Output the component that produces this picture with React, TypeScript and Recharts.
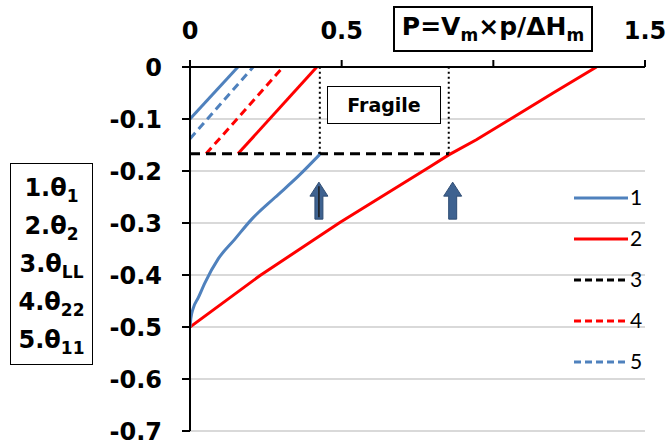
import React from "react";
import {
  ComposedChart,
  Line,
  XAxis,
  YAxis,
  CartesianGrid,
  ReferenceDot,
} from "recharts";

// ---------- data ----------
const X_TICKS = [0, 0.5, 1, 1.5];
const Y_TICKS = [0, -0.1, -0.2, -0.3, -0.4, -0.5, -0.6, -0.7];

// 1. theta1 (blue solid)
const theta1Lower = [
  { x: 0, y: -0.5 },
  { x: 0.003, y: -0.483 },
  { x: 0.01, y: -0.465 },
  { x: 0.027, y: -0.444 },
  { x: 0.05, y: -0.414 },
  { x: 0.093, y: -0.369 },
  { x: 0.148, y: -0.331 },
  { x: 0.203, y: -0.293 },
  { x: 0.28, y: -0.251 },
  { x: 0.357, y: -0.21 },
  { x: 0.428, y: -0.168 },
];
const theta1Upper = [
  { x: 0, y: -0.1 },
  { x: 0.158, y: 0 },
];
// 2. theta2 (red solid)
const theta2Main = [
  { x: 0, y: -0.5 },
  { x: 0.231, y: -0.401 },
  { x: 0.494, y: -0.299 },
  { x: 0.791, y: -0.192 },
  { x: 0.853, y: -0.169 },
  { x: 0.944, y: -0.14 },
  { x: 1.054, y: -0.101 },
  { x: 1.197, y: -0.05 },
  { x: 1.34, y: 0 },
];
const theta2Upper = [
  { x: 0.158, y: -0.167 },
  { x: 0.418, y: 0 },
];
// 3. thetaLL (black dashed)
const thetaLL = [
  { x: 0, y: -0.167 },
  { x: 0.853, y: -0.167 },
];
// 4. theta22 (red dashed)
const theta22 = [
  { x: 0.053, y: -0.167 },
  { x: 0.307, y: 0 },
];
// 5. theta11 (blue dashed)
const theta11 = [
  { x: 0, y: -0.138 },
  { x: 0.208, y: 0 },
];
// fragile region boundaries (dotted)
const boundaryLeft = [
  { x: 0.428, y: -0.167 },
  { x: 0.428, y: 0 },
];
const boundaryRight = [
  { x: 0.853, y: -0.167 },
  { x: 0.853, y: 0 },
];
// arrows
const ARROWS = [
  { x: 0.425, y: -0.257, mid: true },
  { x: 0.866, y: -0.257, mid: false },
];

const LEGEND_ITEMS = [
  { label: "1", color: "#4f81bd", dash: "" },
  { label: "2", color: "#ff0000", dash: "" },
  { label: "3", color: "#000000", dash: "7 4" },
  { label: "4", color: "#ff0000", dash: "7 4" },
  { label: "5", color: "#4f81bd", dash: "7 4" },
];

const BLUE = "#4f81bd";
const RED = "#ff0000";
const FONT = "'DejaVu Sans', 'Liberation Sans', Arial, sans-serif";

const Arrow = (props: any) => {
  const { cx, cy, mid } = props;
  if (cx == null || cy == null) return null;
  const top = cy - 18.5;
  const headBase = top + 14;
  const bottom = cy + 18.5;
  const pts = [
    [cx, top],
    [cx + 9, headBase],
    [cx + 4, headBase],
    [cx + 4, bottom],
    [cx - 4, bottom],
    [cx - 4, headBase],
    [cx - 9, headBase],
  ]
    .map((p) => p.join(","))
    .join(" ");
  return (
    <g>
      <polygon points={pts} fill="#3e6290" stroke="#2f4d74" strokeWidth={1} />
      {mid ? (
        <line x1={cx} y1={top + 4} x2={cx} y2={bottom - 2} stroke="#1a1a1a" strokeWidth={1.5} />
      ) : null}
    </g>
  );
};

const LegendBox = () => (
  <svg
    width={90}
    height={200}
    style={{ position: "absolute", left: 570, top: 185, display: "block" }}
  >
    {LEGEND_ITEMS.map((it, i) => {
      const y = 13 + i * 41;
      return (
        <g key={it.label}>
          <line
            x1={4}
            x2={58}
            y1={y}
            y2={y}
            stroke={it.color}
            strokeWidth={3}
            strokeDasharray={it.dash || undefined}
          />
          <text
            x={60}
            y={y + 7}
            fontSize={21}
            fontFamily="Lato, 'Open Sans', sans-serif"
            fill="#000"
          >
            {it.label}
          </text>
        </g>
      );
    })}
  </svg>
);

export default function App() {
  return (
    <div
      style={{
        position: "absolute",
        left: 0,
        top: 0,
        width: 669,
        height: 446,
        background: "#fff",
        fontFamily: FONT,
      }}
    >
      <ComposedChart
        width={669}
        height={446}
        margin={{ top: 27, right: 24, bottom: 15, left: 130 }}
      >
        <CartesianGrid vertical={false} stroke="#b3b3b3" strokeWidth={1.2} />
        <XAxis
          type="number"
          dataKey="x"
          orientation="top"
          domain={[0, 1.5]}
          ticks={X_TICKS}
          height={40}
          allowDataOverflow
          interval={0}
          axisLine={{ stroke: "#000", strokeWidth: 2 }}
          tickLine={{ stroke: "#000", strokeWidth: 2 }}
          tickSize={7}
          tickMargin={21}
          tick={{ fill: "#000", fontSize: 24, fontWeight: "bold", fontFamily: FONT }}
          tickFormatter={(v: number) => (v === 1 ? "" : String(v))}
        />
        <YAxis
          type="number"
          dataKey="y"
          domain={[-0.7, 0]}
          ticks={Y_TICKS}
          width={60}
          allowDataOverflow
          interval={0}
          axisLine={{ stroke: "#000", strokeWidth: 2 }}
          tickLine={{ stroke: "#000", strokeWidth: 2 }}
          tickSize={8}
          tickMargin={20}
          tick={{ fill: "#000", fontSize: 24, fontWeight: "bold", fontFamily: FONT }}
          tickFormatter={(v: number) => (v === 0 ? "0" : String(v))}
        />
        <Line data={boundaryLeft} dataKey="y" stroke="#000" strokeWidth={2} strokeDasharray="2 3" dot={false} isAnimationActive={false} legendType="none" />
        <Line data={boundaryRight} dataKey="y" stroke="#000" strokeWidth={2} strokeDasharray="2 3" dot={false} isAnimationActive={false} legendType="none" />
        <Line data={theta1Upper} dataKey="y" stroke={BLUE} strokeWidth={3} dot={false} isAnimationActive={false} legendType="none" />
        <Line data={theta11} dataKey="y" stroke={BLUE} strokeWidth={3} strokeDasharray="8 5" dot={false} isAnimationActive={false} name="5" />
        <Line data={theta22} dataKey="y" stroke={RED} strokeWidth={3} strokeDasharray="8 5" dot={false} isAnimationActive={false} name="4" />
        <Line data={theta2Upper} dataKey="y" stroke={RED} strokeWidth={3} dot={false} isAnimationActive={false} legendType="none" />
        <Line data={theta2Main} dataKey="y" stroke={RED} strokeWidth={3} dot={false} isAnimationActive={false} name="2" />
        <Line data={thetaLL} dataKey="y" stroke="#000" strokeWidth={3} strokeDasharray="10 6" dot={false} isAnimationActive={false} name="3" />
        <Line data={theta1Lower} dataKey="y" stroke={BLUE} strokeWidth={3} dot={false} isAnimationActive={false} name="1" type="monotone" />
        {ARROWS.map((a, i) => (
          <ReferenceDot
            key={i}
            x={a.x}
            y={a.y}
            r={1}
            ifOverflow="visible"
            shape={(p: any) => <Arrow {...p} mid={a.mid} />}
          />
        ))}
      </ComposedChart>

      <LegendBox />

      {/* Title box */}
      <div
        style={{
          position: "absolute",
          left: 393,
          top: 6,
          width: 200,
          height: 46,
          boxSizing: "border-box",
          border: "2px solid #000",
          background: "#fff",
          display: "flex",
          alignItems: "center",
          justifyContent: "center",
          fontWeight: "bold",
          fontSize: 25,
          lineHeight: 1,
          whiteSpace: "nowrap",
        }}
      >
        <span>
          P=V<sub style={{ fontSize: 17 }}>m</sub>×p/ΔH<sub style={{ fontSize: 17 }}>m</sub>
        </span>
      </div>

      {/* Fragile box */}
      <div
        style={{
          position: "absolute",
          left: 327,
          top: 86,
          width: 114,
          height: 38,
          boxSizing: "border-box",
          border: "1.5px solid #000",
          background: "#fff",
          display: "flex",
          alignItems: "center",
          justifyContent: "center",
          fontWeight: "bold",
          fontSize: 19,
        }}
      >
        Fragile
      </div>

      {/* Variables box */}
      <div
        style={{
          position: "absolute",
          left: 10,
          top: 163,
          width: 83,
          height: 202,
          boxSizing: "border-box",
          border: "1.5px solid #000",
          background: "#fff",
          display: "flex",
          flexDirection: "column",
          justifyContent: "center",
          alignItems: "center",
          fontWeight: "bold",
          fontSize: 24,
          lineHeight: "38px",
        }}
      >
        <div>1.θ<sub style={{ fontSize: 17, lineHeight: 0 }}>1</sub></div>
        <div>2.θ<sub style={{ fontSize: 17, lineHeight: 0 }}>2</sub></div>
        <div>3.θ<sub style={{ fontSize: 17, lineHeight: 0 }}>LL</sub></div>
        <div>4.θ<sub style={{ fontSize: 17, lineHeight: 0 }}>22</sub></div>
        <div>5.θ<sub style={{ fontSize: 17, lineHeight: 0 }}>11</sub></div>
      </div>
    </div>
  );
}
